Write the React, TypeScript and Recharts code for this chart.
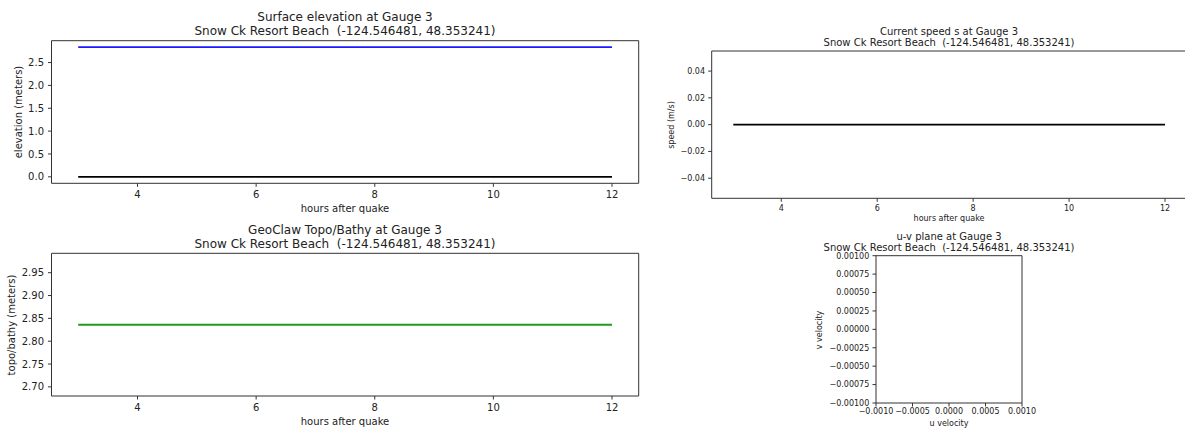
import { LineChart, Line, XAxis, YAxis, ReferenceArea } from "recharts";

// gauge 3 time series (hours after quake)
const hours = [3, 12];
const surfaceEta = [2.836, 2.836];
const seaLevel = [0, 0];
const topoBathy = [2.836, 2.836];
const currentSpeed = [0, 0];
const uVelocity = [0, 0];
const vVelocity = [0, 0];

const hourTicks = [4, 6, 8, 10, 12];
const etaTicks = [0, 0.5, 1, 1.5, 2, 2.5];
const topoTicks = [2.7, 2.75, 2.8, 2.85, 2.9, 2.95];
const speedTicks = [-0.04, -0.02, 0, 0.02, 0.04];
const uTicks = [-0.001, -0.0005, 0, 0.0005, 0.001];
const vTicks = [-0.001, -0.00075, -0.0005, -0.00025, 0, 0.00025, 0.0005, 0.00075, 0.001];

const gaugeName = "Snow Ck Resort Beach  (-124.546481, 48.353241)";

const hourDomain: [number, number] = [2.55, 12.45];
const etaDomain: [number, number] = [-0.1418, 2.9778];
const topoDomain: [number, number] = [2.68, 2.9925];
const speedDomain: [number, number] = [-0.055, 0.055];
const uvDomain: [number, number] = [-0.001, 0.001];

const elevData = hours.map((t, i) => ({ t, eta: surfaceEta[i], sea: seaLevel[i] }));
const topoData = hours.map((t, i) => ({ t, b: topoBathy[i] }));
const speedData = hours.map((t, i) => ({ t, s: currentSpeed[i] }));
const uvData = uVelocity.map((u, i) => ({ u, v: vVelocity[i] }));

const fmt = (d: number) => (v: number) => v.toFixed(d).replace("-", "\u2212");

const INK = "#222";
const SPINE = "#333";
const LW = 1.8;

const Txt = ({
  x,
  y,
  size,
  lh,
  rotate,
  children,
}: {
  x: number;
  y: number;
  size: number;
  lh?: number;
  rotate?: boolean;
  children: string;
}) => (
  <div
    style={{
      position: "absolute",
      left: x,
      top: y,
      transform: `translate(-50%, -50%)${rotate ? " rotate(-90deg)" : ""}`,
      fontSize: size,
      lineHeight: `${lh ?? size}px`,
      whiteSpace: "pre",
      textAlign: "center",
      color: INK,
    }}
  >
    {children}
  </div>
);

const axisProps = (fontSize: number, tickMargin: number) => ({
  type: "number" as const,
  allowDataOverflow: true,
  interval: 0 as const,
  tickSize: 3.5,
  tickMargin,
  tick: { fontSize, fill: INK },
  tickLine: { stroke: SPINE },
  axisLine: false,
});

const Box = ({ x, y }: { x: [number, number]; y: [number, number] }) => (
  <ReferenceArea x1={x[0]} x2={x[1]} y1={y[0]} y2={y[1]} fill="none" stroke={SPINE} strokeWidth={1} />
);

export default function App() {
  return (
    <div
      style={{
        position: "fixed",
        left: 0,
        top: 0,
        width: 1185,
        height: 431,
        overflow: "hidden",
        background: "#fff",
        fontFamily: "DejaVu Sans",
      }}
    >
      {/* surface elevation */}
      <div style={{ position: "absolute", left: 0, top: 0 }}>
        <LineChart width={650} height={215} data={elevData} margin={{ top: 40.7, right: 11.3, bottom: 0, left: 0 }}>
          <XAxis {...axisProps(10, 4.5)} dataKey="t" domain={hourDomain} ticks={hourTicks} height={31.7} />
          <YAxis {...axisProps(10, 4)} domain={etaDomain} ticks={etaTicks} width={51.5} tickFormatter={fmt(1)} />
          {Box({ x: hourDomain, y: etaDomain })}
          <Line dataKey="eta" stroke="#1a1aff" strokeWidth={LW} dot={false} isAnimationActive={false} />
          <Line dataKey="sea" stroke="#000" strokeWidth={LW} dot={false} isAnimationActive={false} />
        </LineChart>
      </div>

      {/* current speed */}
      <div style={{ position: "absolute", left: 650, top: 0 }}>
        <LineChart width={540} height={215} data={speedData} margin={{ top: 51, right: 3.4, bottom: 0, left: 0 }}>
          <XAxis {...axisProps(8, 3.3)} dataKey="t" domain={hourDomain} ticks={hourTicks} height={16.7} />
          <YAxis {...axisProps(8, 3.2)} domain={speedDomain} ticks={speedTicks} width={61.7} tickFormatter={fmt(2)} />
          {Box({ x: hourDomain, y: speedDomain })}
          <Line dataKey="s" stroke="#000" strokeWidth={LW} dot={false} isAnimationActive={false} />
        </LineChart>
      </div>

      {/* topo / bathy */}
      <div style={{ position: "absolute", left: 0, top: 215 }}>
        <LineChart width={650} height={216} data={topoData} margin={{ top: 38.3, right: 11.3, bottom: 0, left: 0 }}>
          <XAxis {...axisProps(10, 4.5)} dataKey="t" domain={hourDomain} ticks={hourTicks} height={35} />
          <YAxis {...axisProps(10, 4)} domain={topoDomain} ticks={topoTicks} width={51.5} tickFormatter={fmt(2)} />
          {Box({ x: hourDomain, y: topoDomain })}
          <Line dataKey="b" stroke="#1f9a1f" strokeWidth={LW} dot={false} isAnimationActive={false} />
        </LineChart>
      </div>

      {/* u-v plane */}
      <div style={{ position: "absolute", left: 780, top: 225 }}>
        <LineChart width={320} height={206} data={uvData} margin={{ top: 30.7, right: 78, bottom: 0, left: 0 }}>
          <XAxis {...axisProps(8, 2.3)} dataKey="u" domain={uvDomain} ticks={uTicks} height={28} tickFormatter={fmt(4)} />
          <YAxis {...axisProps(8, 3.2)} domain={uvDomain} ticks={vTicks} width={96} tickFormatter={fmt(5)} />
          {Box({ x: uvDomain, y: uvDomain })}
          <Line dataKey="v" stroke="#1f77b4" strokeWidth={LW} dot={false} isAnimationActive={false} />
        </LineChart>
      </div>

      <Txt x={345} y={23.7} size={12} lh={14}>{"Surface elevation at Gauge 3\n" + gaugeName}</Txt>
      <Txt x={345} y={209} size={10}>hours after quake</Txt>
      <Txt x={18.7} y={112} size={10} rotate>elevation (meters)</Txt>

      <Txt x={949} y={38.3} size={10} lh={10.6}>{"Current speed s at Gauge 3\n" + gaugeName}</Txt>
      <Txt x={949} y={219} size={8}>hours after quake</Txt>
      <Txt x={671.7} y={124.6} size={8} rotate>speed (m/s)</Txt>

      <Txt x={345} y={237} size={12} lh={14}>{"GeoClaw Topo/Bathy at Gauge 3\n" + gaugeName}</Txt>
      <Txt x={345} y={421.7} size={10}>hours after quake</Txt>
      <Txt x={11.7} y={324.6} size={10} rotate>topo/bathy (meters)</Txt>

      <Txt x={949} y={243} size={10} lh={10.6}>{"u-v plane at Gauge 3\n" + gaugeName}</Txt>
      <Txt x={949} y={424} size={8}>u velocity</Txt>
      <Txt x={820} y={330} size={8} rotate>v velocity</Txt>
    </div>
  );
}
